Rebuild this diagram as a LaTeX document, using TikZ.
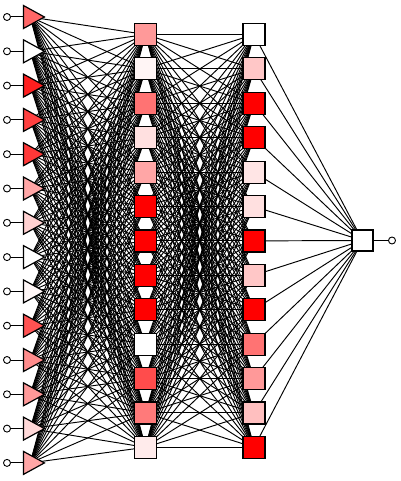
\documentclass[tikz,border=0pt]{standalone}
\usetikzlibrary{shapes.geometric, backgrounds}
\tikzset{
  unit/.style={draw, line width=1.2pt, inner sep=0pt},
  insig/.style={unit, isosceles triangle, isosceles triangle stretches, minimum width=23pt, minimum height=21pt},
  hid/.style={unit, rectangle, minimum size=22pt},
  term/.style={draw, circle, line width=0.9pt, inner sep=0pt, minimum size=7pt, fill=white},
  wire/.style={line width=0.95pt},
}

\begin{document}
\begin{tikzpicture}[x=1pt, y=-1pt]
  \useasboundingbox (0,0) rectangle (400,481);
  % input layer
  \foreach \i/\c in {1/60, 2/0, 3/88, 4/75, 5/78, 6/35, 7/18, 8/0, 9/3, 10/68, 11/45, 12/40, 13/15, 14/35} {
    \node[term] (x\i) at (7, {17+34.3*(\i-1)}) {};
    \node[insig, fill=red!\c, anchor=apex] (in\i) at (46, {17+34.3*(\i-1)}) {};
    \draw[line width=1pt] (x\i) -- (in\i.lower side);
  }
  % hidden layers
  \foreach \j/\c in {1/40, 2/4, 3/55, 4/12, 5/35, 6/100, 7/100, 8/100, 9/100, 10/0, 11/70, 12/52, 13/8}
    \node[hid, fill=red!\c] (h\j) at (145.5, {34.5+34.4*(\j-1)}) {};
  \foreach \j/\c in {1/0, 2/22, 3/100, 4/100, 5/10, 6/12, 7/100, 8/22, 9/100, 10/55, 11/40, 12/25, 13/100}
    \node[hid, fill=red!\c] (g\j) at (254, {34.5+34.4*(\j-1)}) {};
  % output
  \node[hid, minimum size=21pt, fill=white] (out) at (362.5, 240.5) {};
  \node[term] (y) at (392, 240.5) {};
  \draw[line width=1pt] (out) -- (y);
  \begin{pgfonlayer}{background}
    \foreach \i in {1,...,14}
      \foreach \j in {1,...,13}
        \draw[wire] (in\i.center) -- (h\j.center);
    \foreach \i in {1,...,13}
      \foreach \j in {1,...,13}
        \draw[wire] (h\i.center) -- (g\j.center);
    \foreach \j in {1,...,13}
      \draw[wire] (g\j.center) -- (out.center);
  \end{pgfonlayer}
\end{tikzpicture}
\end{document}
